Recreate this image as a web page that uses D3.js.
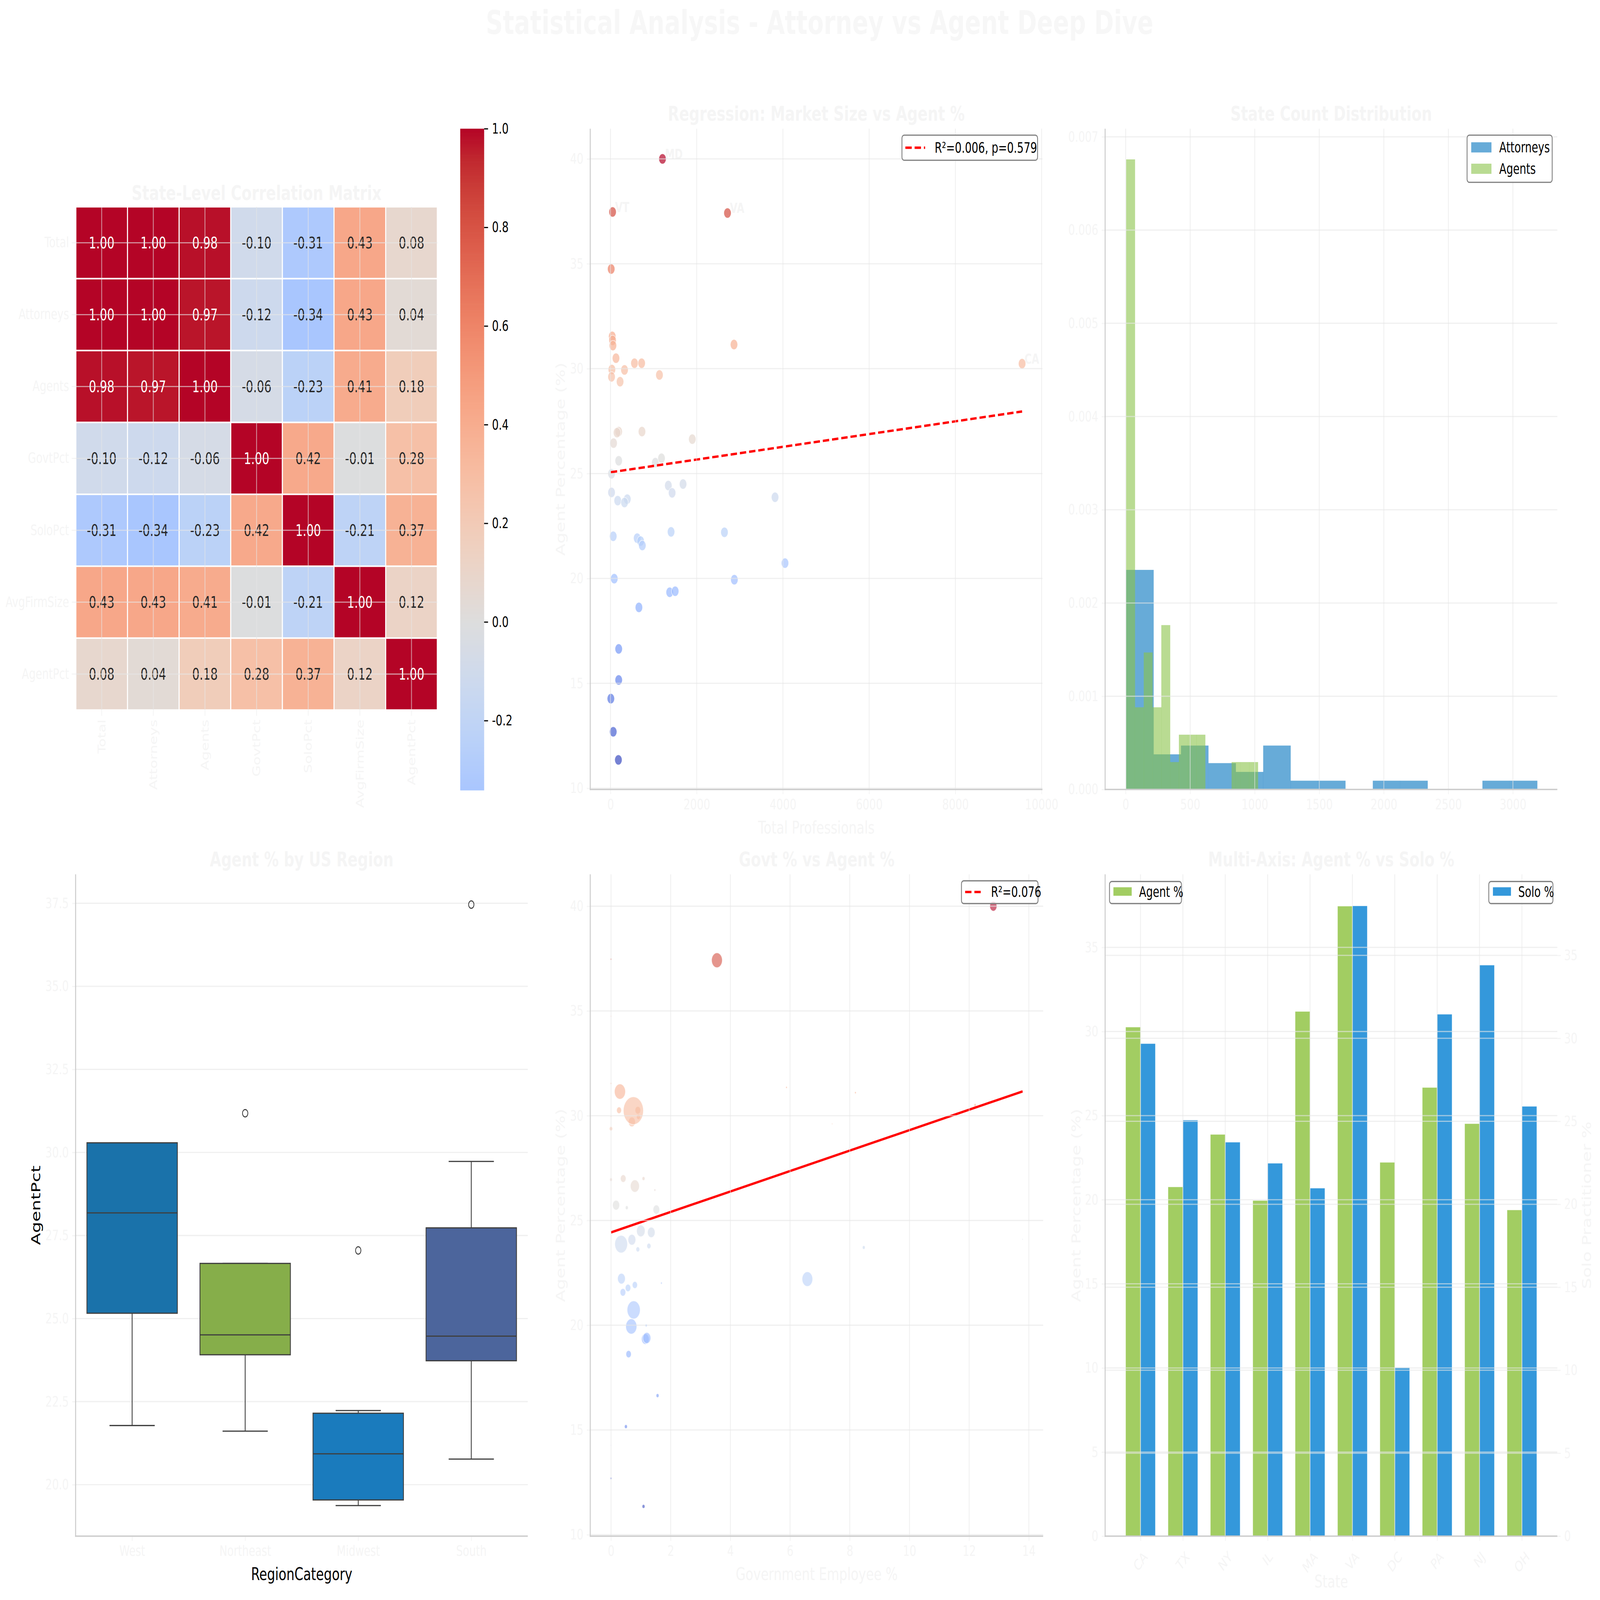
<!DOCTYPE html>
<html><head><meta charset="utf-8">
<script src="https://cdn.jsdelivr.net/npm/d3@7"></script>
<style>html,body{margin:0;padding:0;background:#fff;overflow:hidden;width:100%;height:100%} svg{display:block;width:100vw;height:100vh} text{font-family:"DejaVu Sans",sans-serif}</style>
</head><body><svg id="c" viewBox="0 0 6560 4712" preserveAspectRatio="none"></svg>
<script>
// ---------------- DATA ----------------
const suptitle = "Statistical Analysis - Attorney vs Agent Deep Dive";
const heatVars = ["Total","Attorneys","Agents","GovtPct","SoloPct","AvgFirmSize","AgentPct"];
const corrMatrix = [
 [1.00,1.00,0.98,-0.10,-0.31,0.43,0.08],
 [1.00,1.00,0.97,-0.12,-0.34,0.43,0.04],
 [0.98,0.97,1.00,-0.06,-0.23,0.41,0.18],
 [-0.10,-0.12,-0.06,1.00,0.42,-0.01,0.28],
 [-0.31,-0.34,-0.23,0.42,1.00,-0.21,0.37],
 [0.43,0.43,0.41,-0.01,-0.21,1.00,0.12],
 [0.08,0.04,0.18,0.28,0.37,0.12,1.00]];
const cbarTicks = [1.0,0.8,0.6,0.4,0.2,0.0,-0.2];

// state-level points: total professionals, agent %, government employee %
const stateTotal = [1206,48,2714,16,40,48,56,2865,127,556,722,32,325,24,1135,222,9548,730,190,151,1897,71,190,1040,1183,24,1683,1341,1429,24,3817,167,389,325,63,619,698,738,1405,2643,4048,87,2873,1373,1500,659,190,190,8,63,183];
const stateAgentPct = [40.0,37.47,37.42,34.75,31.54,31.35,31.1,31.15,30.5,30.26,30.26,29.96,29.94,29.61,29.7,29.38,30.24,27.0,27.0,26.95,26.64,26.45,25.61,25.52,25.73,24.99,24.5,24.43,24.08,24.1,23.87,23.71,23.78,23.62,22.01,21.92,21.78,21.57,22.22,22.2,20.73,19.99,19.94,19.34,19.39,18.62,16.64,15.16,14.27,12.69,11.35];
const stateGovtPct = [12.81,0.0,3.55,0.0,0.0,5.88,8.19,0.30,12.2,0.27,0.90,0.0,0.92,7.41,0.70,0.0,0.75,0.41,1.09,0.0,0.80,1.47,0.53,1.52,0.17,0.0,1.0,1.35,0.70,13.79,0.34,8.47,1.27,0.90,1.69,0.80,0.57,0.40,0.35,6.58,0.76,1.18,0.68,1.15,1.20,0.59,1.56,0.50,0.0,0.0,1.09];
const stateLabel = ["MD","VT","VA","","","","","","","","","","","","","","CA"];
const reg1 = {intercept: 25.06, slope: 0.0003037, label: "R²=0.006, p=0.579"};
const reg2 = {intercept: 24.43, slope: 0.488, label: "R²=0.076"};

// histogram (density) bins
const histN = 50;
const attBinStart = 4, attBinWidth = 212.3;
const attCounts = [25,4,5,3,2,5,1,1,0,1,1,0,0,1,1];
const agentBinStart = 4, agentBinWidth = 68.07;
const agentCounts = [23,3,5,3,6,1,2,2,2,0,0,0,1,1,1];

// boxplot by region
const regions = ["West","Northeast","Midwest","South"];
const boxQ1 = [25.16,23.91,19.54,23.73];
const boxMedian = [28.18,24.51,20.93,24.47];
const boxQ3 = [30.29,26.66,22.15,27.73];
const whiskerLow = [21.78,21.61,19.37,20.77];
const whiskerHigh = [30.29,26.66,22.23,29.73];
const boxOutliers = [[],[31.18],[27.05],[37.46]];
const boxColors = ["#1a72aa","#86ae4a","#1a7bbd","#4c659c"];

// multi-axis bars
const barStates = ["CA","TX","NY","IL","MA","VA","DC","PA","NJ","OH"];
const barAgentPct = [30.26,20.76,23.88,19.95,31.19,37.45,22.22,26.67,24.52,19.39];
const barSoloPct = [29.68,25.07,23.74,22.47,20.97,37.98,10.16,31.45,34.41,25.90];

// ---------------- STYLE ----------------
const faint = "#f5f5f5";
const gridCol = "#e6e6e6", gridOp = 0.6, gridW = 3.5;
const spineCol = "#cccccc";
const FS_TICK = 43, FS_TITLE = 60, FS_LABEL = 52;
const cwTable = [[59,76,192],[68,90,204],[77,104,215],[87,117,225],[98,130,234],[108,142,241],[119,154,247],[130,165,251],[141,176,254],[152,185,255],[163,194,255],[174,201,253],[184,208,249],[194,213,244],[204,217,238],[213,219,230],[221,221,221],[229,216,209],[236,211,197],[241,204,185],[245,196,173],[247,187,160],[247,177,148],[247,166,135],[244,154,123],[241,141,111],[236,127,99],[229,112,88],[222,96,77],[213,80,66],[203,62,56],[192,40,47],[180,4,38]];
const coolwarm = d3.scaleLinear().domain(d3.range(33).map(i=>i/32)).range(cwTable.map(c=>`rgb(${c[0]},${c[1]},${c[2]})`)).interpolate(d3.interpolateRgb).clamp(true);

const svg = d3.select("#c");
svg.append("rect").attr("width",6560).attr("height",4712).attr("fill","#fff");

function txt(x,y,s,o={}){
  const t = svg.append("text").attr("x",x).attr("y",y).text(s)
    .attr("font-size",o.fs||FS_TICK).attr("fill",o.fill||faint)
    .attr("text-anchor",o.anchor||"start");
  if(o.bold) t.attr("font-weight","bold");
  if(o.db) t.attr("dominant-baseline",o.db);
  if(o.rot!=null) t.attr("transform",`rotate(${o.rot},${x},${y})`);
  return t;
}
function styleAxis(g,color){
  g.select(".domain").remove();
  g.attr("color",color||faint).attr("font-size",FS_TICK).attr("font-family","DejaVu Sans");
  g.selectAll(".tick line").attr("stroke-width",3.5);
}
function hGrid(g,ys,scale,x0,x1){
  g.selectAll(null).data(ys).join("line").attr("x1",x0).attr("x2",x1)
   .attr("y1",d=>scale(d)).attr("y2",d=>scale(d))
   .attr("stroke",gridCol).attr("stroke-opacity",gridOp).attr("stroke-width",gridW);
}
function vGrid(g,xs,scale,y0,y1){
  g.selectAll(null).data(xs).join("line").attr("y1",y0).attr("y2",y1)
   .attr("x1",d=>scale(d)).attr("x2",d=>scale(d))
   .attr("stroke",gridCol).attr("stroke-opacity",gridOp).attr("stroke-width",gridW);
}
function spines(L,R,T,B){
  svg.append("line").attr("x1",L).attr("x2",L).attr("y1",T).attr("y2",B+2).attr("stroke",spineCol).attr("stroke-width",4);
  svg.append("line").attr("x1",L-2).attr("x2",R).attr("y1",B).attr("y2",B).attr("stroke",spineCol).attr("stroke-width",4);
}
function legendBox(x,y,w,h){
  svg.append("rect").attr("x",x).attr("y",y).attr("width",w).attr("height",h).attr("rx",9)
    .attr("fill","#fff").attr("fill-opacity",0.8).attr("stroke","#808080").attr("stroke-width",3.5);
}

// ---------------- SUPTITLE ----------------
txt(1992,100,suptitle,{fs:97,bold:true,fill:"#f7f7f7"});

// ---------------- PANEL 1: HEATMAP ----------------
(function(){
  const x = d3.scaleBand().domain(heatVars).range([311,1793]);
  const y = d3.scaleBand().domain(heatVars).range([609,2091]);
  const cellColor = v => coolwarm((v+1)/2);
  const g = svg.append("g");
  const cells = [];
  corrMatrix.forEach((row,i)=>row.forEach((v,j)=>cells.push({r:heatVars[i],c:heatVars[j],v})));
  g.selectAll("rect").data(cells).join("rect")
   .attr("x",d=>x(d.c)).attr("y",d=>y(d.r)).attr("width",x.bandwidth()).attr("height",y.bandwidth())
   .attr("fill",d=>cellColor(d.v)).attr("stroke","#fff").attr("stroke-width",4.3);
  const gg = svg.append("g");
  gg.selectAll(null).data(heatVars).join("line").attr("x1",d=>x(d)+x.bandwidth()/2).attr("x2",d=>x(d)+x.bandwidth()/2)
    .attr("y1",609).attr("y2",2091).attr("stroke",gridCol).attr("stroke-opacity",gridOp).attr("stroke-width",gridW);
  gg.selectAll(null).data(heatVars).join("line").attr("y1",d=>y(d)+y.bandwidth()/2).attr("y2",d=>y(d)+y.bandwidth()/2)
    .attr("x1",311).attr("x2",1793).attr("stroke",gridCol).attr("stroke-opacity",gridOp).attr("stroke-width",gridW);
  function lum(c){const k=d3.rgb(c);const f=u=>{u/=255;return u<=0.03928?u/12.92:Math.pow((u+0.055)/1.055,2.4);};return 0.2126*f(k.r)+0.7152*f(k.g)+0.0722*f(k.b);}
  g.selectAll("text").data(cells).join("text")
   .attr("x",d=>x(d.c)+x.bandwidth()/2).attr("y",d=>y(d.r)+y.bandwidth()/2)
   .attr("text-anchor","middle").attr("dominant-baseline","central").attr("font-size",47)
   .attr("fill",d=>lum(cellColor(d.v))>0.408?"#262626":"#ffffff")
   .text(d=>d.v.toFixed(2));
  const ax = svg.append("g").attr("transform","translate(311,0)").call(d3.axisLeft(y).tickSize(17).tickPadding(11));
  styleAxis(ax);
  const bx = svg.append("g").attr("transform","translate(0,2091)").call(d3.axisBottom(x).tickSize(17).tickPadding(11));
  styleAxis(bx);
  bx.selectAll(".tick text").attr("transform","rotate(-90)").attr("text-anchor","end")
    .attr("x",-28).attr("y",0).attr("dy","0.35em");
  const vmin = -0.341, vmax = 1.0;
  const cy = d3.scaleLinear().domain([vmin,vmax]).range([2327,379]);
  const steps = d3.range(0,400).map(i=>vmin+(vmax-vmin)*i/400);
  const dv = (vmax-vmin)/400;
  svg.append("g").selectAll("rect").data(steps).join("rect")
    .attr("x",1887).attr("width",98).attr("y",d=>cy(d+dv)).attr("height",d=>cy(d)-cy(d+dv)+0.8)
    .attr("fill",d=>cellColor(d+dv/2));
  const cax = svg.append("g").attr("transform","translate(1985,0)")
    .call(d3.axisRight(cy).tickValues(cbarTicks).tickFormat(d3.format(".1f")).tickSize(16).tickPadding(16));
  styleAxis(cax,"#000");
  cax.selectAll(".tick text").text(d=>d3.format(".1f")(d).replace("−","-"));
  txt(1052,589,"State-Level Correlation Matrix",{fs:FS_TITLE,bold:true,anchor:"middle"});
})();

// ---------------- PANEL 2: REGRESSION ----------------
(function(){
  const L=2420,R=4274,T=379,B=2325;
  const x = d3.scaleLinear().domain([-470,10020]).range([L,R]);
  const y = d3.scaleLinear().domain([9.94,41.44]).range([B,T]);
  const ext = d3.extent(stateAgentPct);
  const col = v => coolwarm((v-ext[0])/(ext[1]-ext[0]));
  const pts = stateTotal.map((t,i)=>({t,a:stateAgentPct[i],lab:stateLabel[i]||""}));
  svg.append("g").selectAll("circle").data(pts).join("circle")
    .attr("cx",d=>x(d.t)).attr("cy",d=>y(d.a)).attr("r",15)
    .attr("fill",d=>col(d.a)).attr("fill-opacity",0.7).attr("stroke","#fff").attr("stroke-width",2).attr("stroke-opacity",0.7);
  pts.filter(d=>d.lab).forEach(d=>txt(x(d.t)+10,y(d.a),d.lab,{fs:40,bold:true}));
  const xe = d3.extent(stateTotal);
  svg.append("line").attr("x1",x(xe[0])).attr("x2",x(xe[1]))
    .attr("y1",y(reg1.intercept+reg1.slope*xe[0])).attr("y2",y(reg1.intercept+reg1.slope*xe[1]))
    .attr("stroke","#ff0000").attr("stroke-width",7).attr("stroke-dasharray","26,12");
  const gg = svg.append("g");
  hGrid(gg,d3.range(10,41,5),y,L,R); vGrid(gg,d3.range(0,10001,2000),x,T,B);
  const ax = svg.append("g").attr("transform",`translate(${L},0)`).call(d3.axisLeft(y).tickValues(d3.range(10,41,5)).tickSize(14).tickPadding(14));
  styleAxis(ax);
  const bx = svg.append("g").attr("transform",`translate(0,${B})`).call(d3.axisBottom(x).tickValues(d3.range(0,10001,2000)).tickFormat(d3.format("d")).tickSize(14).tickPadding(14));
  styleAxis(bx);
  spines(L,R,T,B);
  txt((L+R)/2,355,"Regression: Market Size vs Agent %",{fs:FS_TITLE,bold:true,anchor:"middle"});
  txt((L+R)/2,2455,"Total Professionals",{fs:FS_LABEL,anchor:"middle"});
  txt(2298,(T+B)/2,"Agent Percentage (%)",{fs:FS_LABEL,anchor:"middle",db:"central",rot:-90});
  legendBox(3698,398,556,74);
  svg.append("line").attr("x1",3712).attr("x2",3793).attr("y1",435).attr("y2",435).attr("stroke","#ff0000").attr("stroke-width",7).attr("stroke-dasharray","26,12");
  txt(3832,435,reg1.label,{fs:FS_TICK,fill:"#000",db:"central"});
})();

// ---------------- PANEL 3: HISTOGRAM ----------------
(function(){
  const L=4531,R=6385,T=379,B=2325;
  const x = d3.scaleLinear().domain([-159,3344]).range([L,R]);
  const y = d3.scaleLinear().domain([0,0.007087]).range([B,T]);
  const att = attCounts.map((c,i)=>({x0:attBinStart+i*attBinWidth,x1:attBinStart+(i+1)*attBinWidth,d:c/(histN*attBinWidth)}));
  const ag = agentCounts.map((c,i)=>({x0:agentBinStart+i*agentBinWidth,x1:agentBinStart+(i+1)*agentBinWidth,d:c/(histN*agentBinWidth)}));
  svg.append("g").selectAll("rect").data(att).join("rect")
    .attr("x",d=>x(d.x0)).attr("width",d=>x(d.x1)-x(d.x0)+0.5).attr("y",d=>y(d.d)).attr("height",d=>B-y(d.d))
    .attr("fill","#2688c7").attr("fill-opacity",0.7);
  svg.append("g").selectAll("rect").data(ag).join("rect")
    .attr("x",d=>x(d.x0)).attr("width",d=>x(d.x1)-x(d.x0)+0.5).attr("y",d=>y(d.d)).attr("height",d=>B-y(d.d))
    .attr("fill","#8bc34a").attr("fill-opacity",0.6);
  const gg = svg.append("g");
  const yt = d3.range(0,8).map(i=>i*0.001);
  hGrid(gg,yt,y,L,R); vGrid(gg,d3.range(0,3001,500),x,T,B);
  const ax = svg.append("g").attr("transform",`translate(${L},0)`).call(d3.axisLeft(y).tickValues(yt).tickFormat(d3.format(".3f")).tickSize(14).tickPadding(14));
  styleAxis(ax);
  const bx = svg.append("g").attr("transform",`translate(0,${B})`).call(d3.axisBottom(x).tickValues(d3.range(0,3001,500)).tickFormat(d3.format("d")).tickSize(14).tickPadding(14));
  styleAxis(bx);
  spines(L,R,T,B);
  txt((L+R)/2,355,"State Count Distribution",{fs:FS_TITLE,bold:true,anchor:"middle"});
  legendBox(6015,398,349,139);
  svg.append("rect").attr("x",6032).attr("y",419).attr("width",83).attr("height",30).attr("fill","#2688c7").attr("fill-opacity",0.7);
  svg.append("rect").attr("x",6032).attr("y",482).attr("width",83).attr("height",30).attr("fill","#8bc34a").attr("fill-opacity",0.6);
  txt(6147,434,"Attorneys",{fs:FS_TICK,fill:"#000",db:"central"});
  txt(6147,497,"Agents",{fs:FS_TICK,fill:"#000",db:"central"});
})();

// ---------------- PANEL 4: BOXPLOT ----------------
(function(){
  const L=310,R=2164,T=2575,B=4524;
  const x = d3.scaleLinear().domain([-0.5,3.5]).range([L,R]);
  const y = d3.scaleLinear().domain([18.45,38.37]).range([B,T]);
  const unit = x(1)-x(0), bw = 0.8*unit, cw = bw/2;
  const edge = "#3f3f3f", lw = 3.5;
  const gg = svg.append("g");
  const g = svg.append("g");
  regions.forEach((r,i)=>{
    const cx = x(i);
    g.append("line").attr("x1",cx).attr("x2",cx).attr("y1",y(boxQ1[i])).attr("y2",y(whiskerLow[i])).attr("stroke",edge).attr("stroke-width",lw);
    g.append("line").attr("x1",cx).attr("x2",cx).attr("y1",y(boxQ3[i])).attr("y2",y(whiskerHigh[i])).attr("stroke",edge).attr("stroke-width",lw);
    g.append("line").attr("x1",cx-cw/2).attr("x2",cx+cw/2).attr("y1",y(whiskerLow[i])).attr("y2",y(whiskerLow[i])).attr("stroke",edge).attr("stroke-width",lw);
    g.append("line").attr("x1",cx-cw/2).attr("x2",cx+cw/2).attr("y1",y(whiskerHigh[i])).attr("y2",y(whiskerHigh[i])).attr("stroke",edge).attr("stroke-width",lw);
    g.append("rect").attr("x",cx-bw/2).attr("width",bw).attr("y",y(boxQ3[i])).attr("height",y(boxQ1[i])-y(boxQ3[i]))
      .attr("fill",boxColors[i]).attr("stroke",edge).attr("stroke-width",lw);
    g.append("line").attr("x1",cx-bw/2).attr("x2",cx+bw/2).attr("y1",y(boxMedian[i])).attr("y2",y(boxMedian[i])).attr("stroke",edge).attr("stroke-width",lw);
    g.selectAll(null).data(boxOutliers[i]).join("circle").attr("cx",cx).attr("cy",d=>y(d)).attr("r",11)
      .attr("fill","none").attr("stroke",edge).attr("stroke-width",3.2);
  });
  const yt = [20,22.5,25,27.5,30,32.5,35,37.5];
  hGrid(gg,yt,y,L,R);
  const ax = svg.append("g").attr("transform",`translate(${L},0)`).call(d3.axisLeft(y).tickValues(yt).tickFormat(d3.format(".1f")).tickSize(14).tickPadding(14));
  styleAxis(ax);
  const bx = svg.append("g").attr("transform",`translate(0,${B})`).call(d3.axisBottom(x).tickValues([0,1,2,3]).tickFormat(i=>regions[i]).tickSize(14).tickPadding(14));
  styleAxis(bx);
  spines(L,R,T,B);
  txt((L+R)/2,2551,"Agent % by US Region",{fs:FS_TITLE,bold:true,anchor:"middle"});
  txt((L+R)/2,4653,"RegionCategory",{fs:FS_LABEL,anchor:"middle",fill:"#000"});
  txt(146,(T+B)/2,"AgentPct",{fs:FS_LABEL,anchor:"middle",db:"central",rot:-90,fill:"#000"});
})();

// ---------------- PANEL 5: GOVT BUBBLES ----------------
(function(){
  const L=2420,R=4277,T=2575,B=4524;
  const x = d3.scaleLinear().domain([-0.695,14.48]).range([L,R]);
  const y = d3.scaleLinear().domain([9.93,41.52]).range([B,T]);
  const ext = d3.extent(stateAgentPct);
  const col = v => coolwarm((v-ext[0])/(ext[1]-ext[0]));
  const rs = d3.scaleSqrt().domain([0,d3.max(stateTotal)]).range([0,41]);
  const pts = stateTotal.map((t,i)=>({t,a:stateAgentPct[i],g:stateGovtPct[i]}));
  svg.append("g").selectAll("circle").data(pts).join("circle")
    .attr("cx",d=>x(d.g)).attr("cy",d=>y(d.a)).attr("r",d=>rs(d.t))
    .attr("fill",d=>col(d.a)).attr("fill-opacity",0.6).attr("stroke","#fff").attr("stroke-width",2.5).attr("stroke-opacity",0.6);
  const ge = d3.extent(stateGovtPct);
  svg.append("line").attr("x1",x(ge[0])).attr("x2",x(ge[1]))
    .attr("y1",y(reg2.intercept+reg2.slope*ge[0])).attr("y2",y(reg2.intercept+reg2.slope*ge[1]))
    .attr("stroke","#ff0000").attr("stroke-width",7);
  const gg = svg.append("g");
  hGrid(gg,d3.range(10,41,5),y,L,R); vGrid(gg,d3.range(0,15,2),x,T,B);
  const ax = svg.append("g").attr("transform",`translate(${L},0)`).call(d3.axisLeft(y).tickValues(d3.range(10,41,5)).tickSize(14).tickPadding(14));
  styleAxis(ax);
  const bx = svg.append("g").attr("transform",`translate(0,${B})`).call(d3.axisBottom(x).tickValues(d3.range(0,15,2)).tickFormat(d3.format("d")).tickSize(14).tickPadding(14));
  styleAxis(bx);
  spines(L,R,T,B);
  txt((L+R)/2,2551,"Govt % vs Agent %",{fs:FS_TITLE,bold:true,anchor:"middle"});
  txt((L+R)/2,4653,"Government Employee %",{fs:FS_LABEL,anchor:"middle"});
  txt(2298,(T+B)/2,"Agent Percentage (%)",{fs:FS_LABEL,anchor:"middle",db:"central",rot:-90});
  legendBox(3942,2594,314,67);
  svg.append("line").attr("x1",3957).attr("x2",4033).attr("y1",2627).attr("y2",2627).attr("stroke","#ff0000").attr("stroke-width",7).attr("stroke-dasharray","26,12");
  txt(4063,2627,reg2.label,{fs:FS_TICK,fill:"#000",db:"central"});
})();

// ---------------- PANEL 6: MULTI-AXIS BARS ----------------
(function(){
  const L=4531,R=6385,T=2575,B=4524;
  const x = d3.scaleLinear().domain([-0.835,9.835]).range([L,R]);
  const yL = d3.scaleLinear().domain([0,39.34]).range([B,T]);
  const yR = d3.scaleLinear().domain([0,39.88]).range([B,T]);
  const w = 0.35;
  const idx = d3.range(barStates.length);
  svg.append("g").selectAll("rect").data(idx).join("rect")
    .attr("x",i=>x(i-w)).attr("width",i=>x(i)-x(i-w)).attr("y",i=>yL(barAgentPct[i])).attr("height",i=>B-yL(barAgentPct[i]))
    .attr("fill","#a2cd62").attr("stroke","#fff").attr("stroke-opacity",0.5).attr("stroke-width",1.5);
  svg.append("g").selectAll("rect").data(idx).join("rect")
    .attr("x",i=>x(i)).attr("width",i=>x(i+w)-x(i)).attr("y",i=>yR(barSoloPct[i])).attr("height",i=>B-yR(barSoloPct[i]))
    .attr("fill","#3498db").attr("stroke","#fff").attr("stroke-opacity",0.5).attr("stroke-width",1.5);
  const gg = svg.append("g");
  const yt = d3.range(0,36,5);
  hGrid(gg,yt,yL,L,R); hGrid(gg,yt,yR,L,R); vGrid(gg,idx,x,T,B);
  const ax = svg.append("g").attr("transform",`translate(${L},0)`).call(d3.axisLeft(yL).tickValues(yt).tickSize(14).tickPadding(14));
  styleAxis(ax);
  const rx = svg.append("g").attr("transform",`translate(${R},0)`).call(d3.axisRight(yR).tickValues(yt).tickSize(14).tickPadding(14));
  styleAxis(rx);
  const bx = svg.append("g").attr("transform",`translate(0,${B})`).call(d3.axisBottom(x).tickValues(idx).tickFormat(()=>"").tickSize(14));
  styleAxis(bx);
  idx.forEach(i=>{
    const t = txt(x(i),0,barStates[i],{fs:FS_TICK,anchor:"middle",db:"central"});
    const tw = t.node().getComputedTextLength();
    const bh = (tw + FS_TICK*1.16)*Math.SQRT1_2;
    const cy = B + 36 + bh/2;
    t.attr("y",cy).attr("transform",`rotate(-45,${x(i)},${cy})`);
  });
  spines(L,R,T,B);
  txt((L+R)/2,2551,"Multi-Axis: Agent % vs Solo %",{fs:FS_TITLE,bold:true,anchor:"middle"});
  txt((L+R)/2,4675,"State",{fs:FS_LABEL,anchor:"middle"});
  txt(4411,(T+B)/2,"Agent Percentage (%)",{fs:FS_LABEL,anchor:"middle",db:"central",rot:-90});
  txt(6504,(T+B)/2,"Solo Practitioner %",{fs:FS_LABEL,anchor:"middle",db:"central",rot:-90});
  legendBox(4549,2596,295,65);
  svg.append("rect").attr("x",4565).attr("y",2613).attr("width",75).attr("height",25).attr("fill","#a2cd62");
  txt(4670,2627,"Agent %",{fs:FS_TICK,fill:"#000",db:"central"});
  legendBox(6104,2596,263,65);
  svg.append("rect").attr("x",6121).attr("y",2613).attr("width",74).attr("height",25).attr("fill","#3498db");
  txt(6225,2627,"Solo %",{fs:FS_TICK,fill:"#000",db:"central"});
})();
</script></body></html>
